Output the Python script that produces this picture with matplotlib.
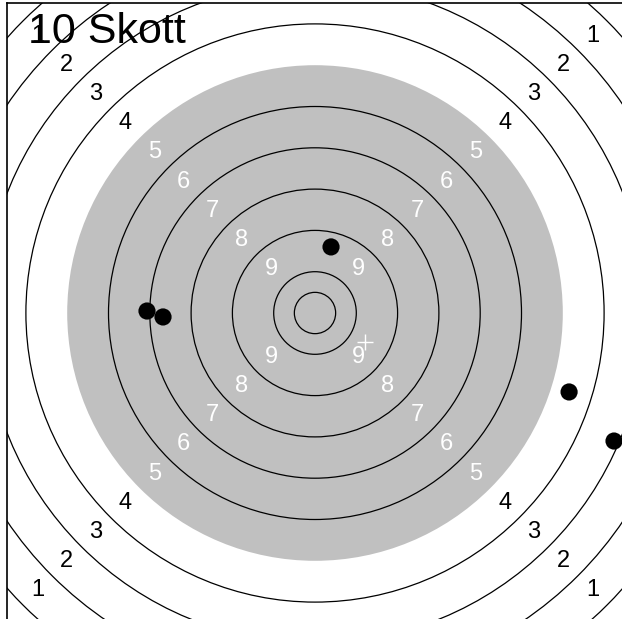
#!/usr/bin/env python3

# INFRASTRUCTURE
import matplotlib
matplotlib.use('Agg')
import matplotlib.pyplot as plt
import numpy as np

plt.rcParams['font.family'] = ['Liberation Sans', 'DejaVu Sans']

# DATA (mm on the target, centre = 0,0)
TITLE = '10 Skott'
RING_WIDTH = 25.0
RING_SCORES = [1, 2, 3, 4, 5, 6, 7, 8, 9, 10]
BLACK_FROM_SCORE = 5  # scores 5..10 sit on the (grey) aiming disc
SHOT_X = [9.7, -101.7, -92.0, 153.8, 181.0]
SHOT_Y = [40.0, 1.2, -2.4, -47.8, -77.5]

DISC_COLOR = '#c0c0c0'
DPI = 100


# FUNCTIONS

# Radius of the outer edge of a scoring ring
def ring_radius(score):
    return (11 - score) * RING_WIDTH


# Draw target rings, grey disc and ring numbers
def draw_target(ax):
    disc = plt.Circle((0, 0), ring_radius(BLACK_FROM_SCORE), color=DISC_COLOR,
                      linewidth=0, zorder=1)
    ax.add_patch(disc)

    for score in RING_SCORES:
        if score == BLACK_FROM_SCORE:
            continue
        ax.add_patch(plt.Circle((0, 0), ring_radius(score), fill=False,
                                edgecolor='black', linewidth=0.9, zorder=2))
    # inner ten
    ax.add_patch(plt.Circle((0, 0), RING_WIDTH / 2, fill=False,
                            edgecolor='black', linewidth=0.9, zorder=2))

    for score in RING_SCORES[:-1]:
        r = ring_radius(score) - RING_WIDTH / 2
        color = 'white' if score >= BLACK_FROM_SCORE else 'black'
        for ang in (45, 135, 225, 315):
            a = np.deg2rad(ang)
            ax.text(r * np.cos(a), r * np.sin(a), str(score), color=color,
                    fontsize=17, ha='center', va='center', zorder=3)


# Draw the shots and their mean point of impact
def draw_shots(ax):
    for x, y in zip(SHOT_X, SHOT_Y):
        ax.add_patch(plt.Circle((x, y), 5.2, color='black', linewidth=0, zorder=4))
    ax.plot(np.mean(SHOT_X), np.mean(SHOT_Y), marker='+', color='white',
            markersize=11, markeredgewidth=1.0, zorder=5)


def create_target_plot():
    fig = plt.figure(figsize=(6.22, 6.19), dpi=DPI)
    px = 1.652  # pixels per mm
    left, top = 7, 3
    cx, cy = 315, 313
    w = 2 * (cx - left)
    h = 2 * (cy - top)
    ax = fig.add_axes([left / 622, (619 - top - h) / 619, w / 622, h / 619])
    ax.set_xlim(-(cx - left) / px, (cx - left) / px)
    ax.set_ylim(-(cy - top) / px, (cy - top) / px)
    ax.set_xticks([])
    ax.set_yticks([])
    for side in ('right', 'bottom'):
        ax.spines[side].set_visible(False)
    for side in ('left', 'top'):
        ax.spines[side].set_linewidth(1.2)

    draw_target(ax)
    draw_shots(ax)

    fig.text(28 / 622, 1 - 43 / 619, TITLE, fontsize=31, ha='left',
             va='baseline', color='black')
    return fig


if __name__ == "__main__":
    fig = create_target_plot()
    fig.savefig('out.png', dpi=DPI)
    plt.close(fig)
